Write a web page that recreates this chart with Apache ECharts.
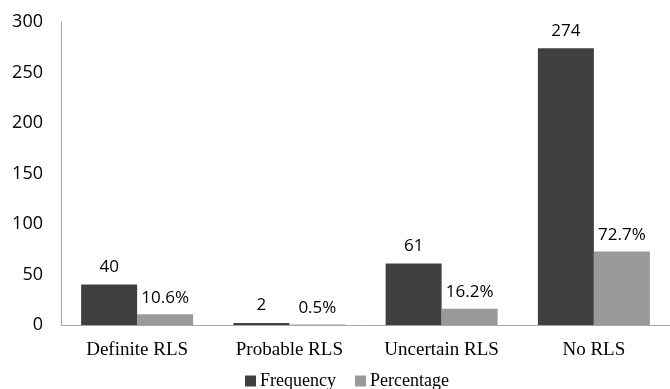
<!DOCTYPE html>
<html>
<head>
<meta charset="utf-8">
<script src="https://cdn.jsdelivr.net/npm/echarts@6/dist/echarts.min.js"></script>
<style>
  html, body { margin: 0; padding: 0; background: #fff; }
  #chart { width: 670px; height: 389px; }
</style>
</head>
<body>
<div id="chart"></div>
<script>
// RLS classification: counts and share of respondents
const categories = ['Definite RLS', 'Probable RLS', 'Uncertain RLS', 'No RLS'];
const frequency = [40, 2, 61, 274];
const percentage = [10.6, 0.5, 16.2, 72.7];
const yTicks = { min: 0, max: 300, interval: 50 };

const sans = '"Open Sans", "Noto Sans", sans-serif';
const serif = '"Liberation Serif", "DejaVu Serif", serif';

const chart = echarts.init(document.getElementById('chart'));
chart.setOption({
  animation: false,
  backgroundColor: '#ffffff',
  grid: { left: 61, top: 22, width: 613, height: 303, containLabel: false },
  legend: {
    top: 366,
    left: 240,
    padding: [5, 5],
    itemWidth: 11,
    itemHeight: 11,
    itemGap: 19,
    icon: 'rect',
    textStyle: { fontFamily: serif, fontSize: 18, color: '#000', lineHeight: 20, padding: [0, 0, 0, -1] },
    data: ['Frequency', 'Percentage']
  },
  xAxis: {
    type: 'category',
    data: categories,
    axisLine: { lineStyle: { color: '#a6a6a6', width: 1 } },
    axisTick: { show: false },
    axisLabel: { fontFamily: serif, fontSize: 19, color: '#000', margin: 16 }
  },
  yAxis: {
    type: 'value',
    min: yTicks.min,
    max: yTicks.max,
    interval: yTicks.interval,
    splitLine: { show: false },
    axisLine: { show: true, lineStyle: { color: '#a6a6a6', width: 1 } },
    axisTick: { show: false },
    axisLabel: { fontFamily: sans, fontSize: 18, color: '#000', margin: 18 }
  },
  series: [
    {
      name: 'Frequency',
      type: 'bar',
      data: frequency,
      barWidth: 56,
      barGap: '0%',
      itemStyle: { color: '#404040' },
      label: {
        show: true,
        position: 'top',
        distance: 9,
        fontFamily: sans,
        fontSize: 17,
        color: '#000'
      }
    },
    {
      name: 'Percentage',
      type: 'bar',
      data: percentage,
      barWidth: 56,
      itemStyle: { color: '#9a9a9a' },
      label: {
        show: true,
        position: 'top',
        distance: 8,
        fontFamily: sans,
        fontSize: 17,
        color: '#000',
        formatter: p => p.value.toFixed(1) + '%'
      }
    }
  ]
});
</script>
</body>
</html>
